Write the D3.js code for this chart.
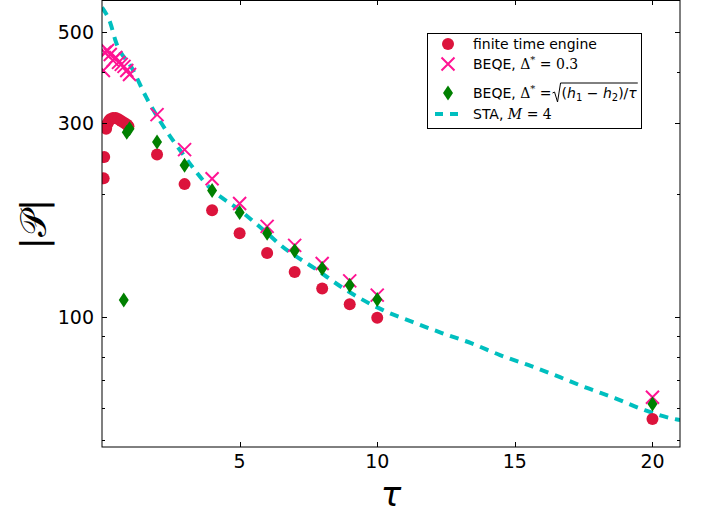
<!DOCTYPE html>
<html>
<head>
<meta charset="utf-8">
<script src="https://cdn.jsdelivr.net/npm/d3@7"></script>
<style>
  body { margin: 0; background: #fff; }
  svg { display: block; }
  text { font-family: "DejaVu Sans", sans-serif; }
</style>
</head>
<body>
<svg id="chart" width="707" height="514"></svg>
<script>
// --- data ---
const engineTau = [0.06, 0.08, 0.15, 0.2, 0.25, 0.3, 0.4, 0.5, 0.6, 0.7, 0.8, 0.9, 0.96,
                   2, 3, 4, 5, 6, 7, 8, 9, 10, 20];
const engineP   = [219, 247, 290, 298, 303, 306, 308, 308, 306, 303, 300, 297, 294,
                   250.5, 212, 183, 160.6, 143.6, 129.1, 117.6, 107.6, 99.6, 56.2];

const beqeTau = [0.05, 0.1, 0.2, 0.3, 0.4, 0.5, 0.6, 0.7, 0.8, 0.9, 1.0,
                 2, 3, 4, 5, 6, 7, 8, 9, 10, 20];
const beqeP   = [403, 446, 451, 441, 426.5, 433.6, 421.7, 417, 412.4, 403, 394,
                 314, 257.6, 218.6, 190, 167, 150, 135.4, 122.7, 113.2, 63.6];

const sqrtTau = [0.79, 0.9, 1.0, 2, 3, 4, 5, 6, 7, 8, 9, 10, 20];
const sqrtP   = [110.1, 284, 290, 268.9, 235.7, 204.5, 180.7, 160.6, 145.4, 131.6, 119.8, 110.5, 61.2];

const staTau = [0, 0.31, 0.49, 1.1, 1.61, 2.2, 2.85, 3.94, 5, 6, 6.5, 7.82, 8.76, 10.21,
                11.3, 12.35, 13.41, 14.46, 15.48, 16.64, 17.62, 18.63, 19.72, 20.81, 21];
const staP   = [575, 525, 477, 407, 346, 296, 256, 207, 183, 160.7, 150, 130.4, 117.8, 104,
                97.2, 91.4, 86.3, 80.7, 76.3, 71.2, 67.0, 63.3, 59.1, 56.2, 55.9];

const xTicks = [5, 10, 15, 20];
const yMajor = [100, 300, 500];
const yMinor = [50, 60, 70, 80, 90, 200, 400];

const legendLabels = ['finite time engine', 'BEQE, ', 'BEQE, ', 'STA, '];

// --- layout ---
const plotLeft = 102, plotRight = 680, plotTop = 0, plotBottom = 447;
const cRed = '#DC143C', cPink = '#FF1493', cGreen = '#008000', cCyan = '#00BFBF';

const svg = d3.select('#chart');

const x = d3.scaleLinear().domain([0, 21]).range([plotLeft, plotRight]);
const y = d3.scaleLog().domain([48, 600]).range([plotBottom, plotTop]);

svg.append('defs').append('clipPath').attr('id', 'plotClip')
    .append('rect')
    .attr('x', plotLeft).attr('y', plotTop)
    .attr('width', plotRight - plotLeft).attr('height', plotBottom - plotTop);

const plot = svg.append('g').attr('clip-path', 'url(#plotClip)');

// STA dashed curve
const line = d3.line()
    .x(d => x(d[0]))
    .y(d => y(d[1]))
    .curve(d3.curveMonotoneX);

plot.append('path')
    .datum(d3.zip(staTau, staP))
    .attr('d', line)
    .attr('fill', 'none')
    .attr('stroke', cCyan)
    .attr('stroke-width', 4)
    .attr('stroke-dasharray', '9,7');

// marker shapes
function crossPath(s) {
    return `M${-s},${-s}L${s},${s}M${-s},${s}L${s},${-s}`;
}
function diamondPath(w, h) {
    return `M0,${-h}L${w},0L0,${h}L${-w},0Z`;
}

// finite time engine circles
plot.selectAll('.engine')
    .data(d3.zip(engineTau, engineP))
    .enter()
    .append('circle')
    .attr('class', 'engine')
    .attr('cx', d => x(d[0]))
    .attr('cy', d => y(d[1]))
    .attr('r', 6)
    .attr('fill', cRed);

// BEQE Delta = 0.3 crosses
plot.selectAll('.beqe')
    .data(d3.zip(beqeTau, beqeP))
    .enter()
    .append('path')
    .attr('class', 'beqe')
    .attr('transform', d => `translate(${x(d[0])},${y(d[1])})`)
    .attr('d', crossPath(6.5))
    .attr('fill', 'none')
    .attr('stroke', cPink)
    .attr('stroke-width', 2);

// BEQE sqrt diamonds
plot.selectAll('.sqrt')
    .data(d3.zip(sqrtTau, sqrtP))
    .enter()
    .append('path')
    .attr('class', 'sqrt')
    .attr('transform', d => `translate(${x(d[0])},${y(d[1])})`)
    .attr('d', diamondPath(5, 7.5))
    .attr('fill', cGreen);

// --- frame and ticks (ticks inward on all sides) ---
const axes = svg.append('g').attr('stroke', '#000').attr('stroke-width', 1);
axes.append('rect')
    .attr('x', plotLeft).attr('y', plotTop + 0.5)
    .attr('width', plotRight - plotLeft).attr('height', plotBottom - plotTop - 0.5)
    .attr('fill', 'none');

xTicks.forEach(t => {
    const px = Math.round(x(t)) + 0.5;
    axes.append('line').attr('x1', px).attr('x2', px).attr('y1', plotBottom).attr('y2', plotBottom - 5);
    axes.append('line').attr('x1', px).attr('x2', px).attr('y1', plotTop).attr('y2', plotTop + 5);
});
yMajor.forEach(t => {
    const py = Math.round(y(t)) + 0.5;
    axes.append('line').attr('x1', plotLeft).attr('x2', plotLeft + 5).attr('y1', py).attr('y2', py);
    axes.append('line').attr('x1', plotRight).attr('x2', plotRight - 5).attr('y1', py).attr('y2', py);
});
yMinor.forEach(t => {
    const py = Math.round(y(t)) + 0.5;
    axes.append('line').attr('x1', plotLeft).attr('x2', plotLeft + 3).attr('y1', py).attr('y2', py);
    axes.append('line').attr('x1', plotRight).attr('x2', plotRight - 3).attr('y1', py).attr('y2', py);
});

// tick labels
svg.selectAll('.xlab')
    .data(xTicks)
    .enter()
    .append('text')
    .attr('x', d => x(d))
    .attr('y', 468)
    .attr('text-anchor', 'middle')
    .attr('font-size', 19)
    .text(d => d);

svg.selectAll('.ylab')
    .data(yMajor)
    .enter()
    .append('text')
    .attr('x', 94)
    .attr('y', d => y(d) + 7)
    .attr('text-anchor', 'end')
    .attr('font-size', 19)
    .text(d => d);

// axis titles
svg.append('text')
    .attr('x', 391).attr('y', 506)
    .attr('text-anchor', 'middle')
    .attr('font-family', 'DejaVu Serif, serif')
    .attr('font-style', 'italic')
    .attr('font-size', 34)
    .text('τ');

svg.append('text')
    .attr('transform', 'translate(46,224) rotate(-90)')
    .attr('text-anchor', 'middle')
    .attr('font-family', 'DejaVu Serif, serif')
    .attr('font-size', 36)
    .text('|𝒫|');

// --- legend ---
const lg = svg.append('g');
lg.append('rect')
    .attr('x', 427.5).attr('y', 33.5)
    .attr('width', 214).attr('height', 95)
    .attr('fill', '#fff')
    .attr('stroke', '#000')
    .attr('stroke-width', 1);

const mx = 448, tx = 473, fs = 14;
const rows = [44, 64, 93, 114];

lg.append('circle').attr('cx', mx).attr('cy', rows[0]).attr('r', 6).attr('fill', cRed);
lg.append('path').attr('transform', `translate(${mx},${rows[1]})`)
    .attr('d', crossPath(6.5)).attr('fill', 'none').attr('stroke', cPink).attr('stroke-width', 2);
lg.append('path').attr('transform', `translate(${mx},${rows[2]})`)
    .attr('d', diamondPath(5, 7.5)).attr('fill', cGreen);
lg.append('line').attr('x1', 435).attr('x2', 458).attr('y1', rows[3]).attr('y2', rows[3])
    .attr('stroke', cCyan).attr('stroke-width', 4).attr('stroke-dasharray', '8,7');

const mathFont = 'DejaVu Serif, serif';

// row 1
lg.append('text').attr('x', tx).attr('y', rows[0] + 5).attr('font-size', fs).text(legendLabels[0]);

// row 2: BEQE, Δ* = 0.3
const t2 = lg.append('text').attr('x', tx).attr('y', rows[1] + 5).attr('font-size', fs);
t2.append('tspan').text(legendLabels[1]);
t2.append('tspan').attr('font-family', mathFont).text('Δ');
t2.append('tspan').attr('font-family', mathFont).attr('font-size', 10).attr('dy', -6).text('*');
t2.append('tspan').attr('font-family', mathFont).attr('dy', 6).text(' = 0.3');

// row 3: BEQE, Δ* = sqrt((h1 - h2)/τ)
const by = rows[2] + 5;
const t3 = lg.append('text').attr('x', tx).attr('y', by).attr('font-size', fs);
t3.append('tspan').text(legendLabels[2]);
t3.append('tspan').attr('font-family', mathFont).text('Δ');
t3.append('tspan').attr('font-family', mathFont).attr('font-size', 10).attr('dy', -6).text('*');
t3.append('tspan').attr('font-family', mathFont).attr('dy', 6).text(' = ');
const w3 = t3.node().getComputedTextLength();
const rx = tx + w3 + 1;
const inner = lg.append('text').attr('x', rx + 9).attr('y', by)
    .attr('font-family', mathFont).attr('font-size', fs);
inner.append('tspan').text('(');
inner.append('tspan').attr('font-style', 'italic').text('h');
inner.append('tspan').attr('font-size', 10).attr('dy', 3).text('1');
inner.append('tspan').attr('dy', -3).text(' − ');
inner.append('tspan').attr('font-style', 'italic').text('h');
inner.append('tspan').attr('font-size', 10).attr('dy', 3).text('2');
inner.append('tspan').attr('dy', -3).text(')/');
inner.append('tspan').attr('font-style', 'italic').text('τ');
const wi = inner.node().getComputedTextLength();
lg.append('path')
    .attr('d', `M${rx},${by - 5}L${rx + 2},${by - 6}L${rx + 5},${by + 4}L${rx + 8},${by - 15}H${rx + 10 + wi}`)
    .attr('fill', 'none')
    .attr('stroke', '#000')
    .attr('stroke-width', 1);

// row 4: STA, M = 4
const t4 = lg.append('text').attr('x', tx).attr('y', rows[3] + 5).attr('font-size', fs);
t4.append('tspan').text(legendLabels[3]);
t4.append('tspan').attr('font-family', mathFont).attr('font-style', 'italic').text('M');
t4.append('tspan').attr('font-family', mathFont).text(' = 4');
</script>
</body>
</html>
